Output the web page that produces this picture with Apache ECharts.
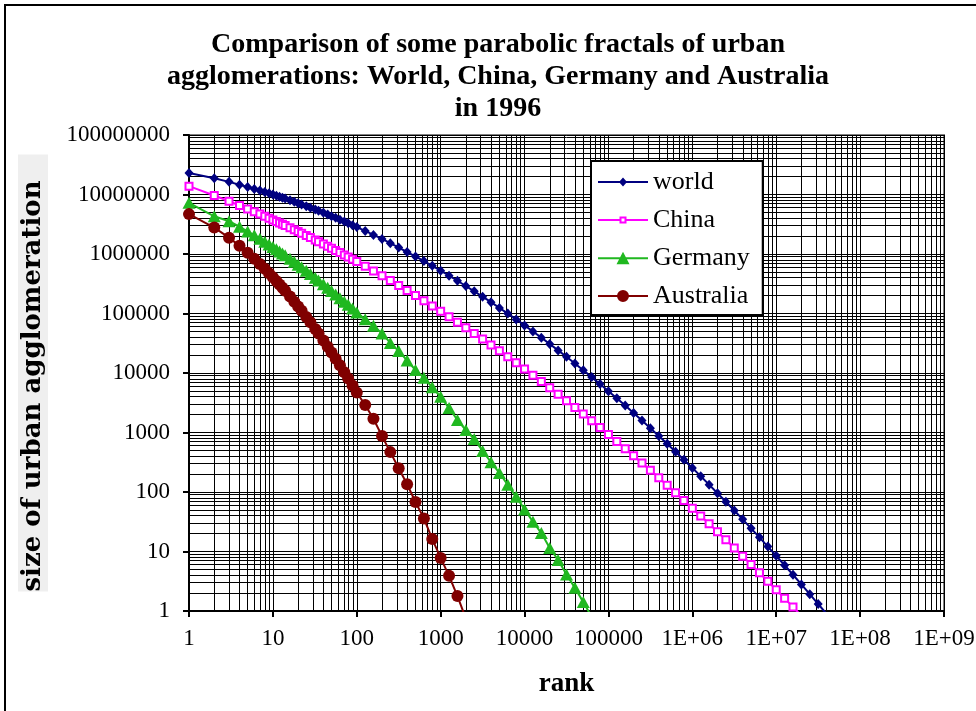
<!DOCTYPE html>
<html>
<head>
<meta charset="utf-8">
<script src="https://cdn.jsdelivr.net/npm/echarts@6/dist/echarts.min.js"></script>
<style>
  html, body { margin: 0; padding: 0; background: #fff; }
  #chart { width: 976px; height: 711px; }
</style>
</head>
<body>
<div id="chart"></div>
<script>
// rank (x) shared by all series
const ranks = [1, 2, 3, 4, 5, 6, 7, 8, 9, 10, 11, 12, 13, 14, 16, 18, 20, 22, 25, 28, 32, 35, 40, 45, 50, 56, 63, 71, 79, 89, 100,
  126, 158, 200, 251, 316, 398, 501, 631, 794, 1000,
  1259, 1585, 1995, 2512, 3162, 3981, 5012, 6310, 7943, 10000,
  12589, 15849, 19953, 25119, 31623, 39811, 50119, 63096, 79433, 100000,
  125893, 158489, 199526, 251189, 316228, 398107, 501187, 630957, 794328, 1000000,
  1258925, 1584893, 1995262, 2511886, 3162278, 3981072, 5011872, 6309573, 7943282, 10000000,
  12589254, 15848932, 19952623, 25118864, 31622777, 39810717];

// size of urban agglomeration, one value per rank
const worldSizes = [22900000, 18700000, 16300000, 14600000, 13400000, 12400000, 11700000, 11000000, 10500000, 9980000,
  9550000, 9180000, 8830000, 8530000, 7980000, 7540000, 7140000, 6810000, 6370000, 5980000,
  5570000, 5310000, 4920000, 4600000, 4330000, 4050000, 3780000, 3510000, 3280000, 3050000, 2830000,
  2440000, 2090000, 1790000, 1520000, 1280000, 1080000, 908000, 760000, 632000, 524000,
  432000, 355000, 290000, 236000, 192000, 155000, 124000, 99800, 79500, 63100,
  49900, 39300, 30800, 24000, 18700, 14400, 11100, 8530, 6520, 4950,
  3750, 2830, 2120, 1590, 1180, 877, 647, 475, 348, 254,
  184, 133, 95.5, 68.5, 48.9, 34.7, 24.5, 17.3, 12.1, 8.45,
  5.87, 4.07, 2.80, 1.92, 1.31, 0.895];

const chinaSizes = [13800000, 9620000, 7690000, 6530000, 5730000, 5130000, 4680000, 4310000, 4000000, 3740000,
  3520000, 3330000, 3160000, 3010000, 2760000, 2550000, 2380000, 2230000, 2040000, 1890000,
  1720000, 1610000, 1470000, 1350000, 1250000, 1150000, 1060000, 966000, 891000, 815000, 745000,
  623000, 520000, 432000, 358000, 296000, 244000, 200000, 164000, 134000, 109000,
  88300, 71400, 57500, 46300, 37100, 29600, 23600, 18700, 14800, 11700,
  9200, 7210, 5640, 4390, 3410, 2640, 2040, 1570, 1210, 923,
  703, 535, 406, 306, 231, 173, 130, 96.8, 72.1, 53.5,
  39.5, 29.2, 21.4, 15.7, 11.5, 8.35, 6.06, 4.39, 3.16, 2.28,
  1.63, 1.17, 0.83];

const germanySizes = [7240000, 4300000, 3560000, 2870000, 2400000, 2060000, 1810000, 1600000, 1440000, 1310000,
  1200000, 1100000, 1020000, 949000, 832000, 738000, 662000, 600000, 522000, 462000,
  398000, 360000, 309000, 270000, 238000, 208000, 180000, 158000, 140000, 121000, 104000,
  80000, 62000, 46000, 32000, 23500, 16200, 11200, 8320, 5750, 3980,
  2570, 1620, 1100, 776, 490, 316, 209, 132, 83, 51,
  31.6, 20.4, 11.5, 7.2, 4.1, 2.45, 1.41, 0.8];

const australiaSizes = [4680000, 2780000, 1880000, 1370000, 1050000, 834000, 679000, 564000, 476000, 407000,
  353000, 308000, 271000, 241000, 193000, 158000, 131000, 111000, 87700, 71100,
  55000, 46100, 35300, 27700, 22200, 17400, 13500, 10300, 8090, 6170, 4680,
  2900, 1700, 870, 468, 251, 135, 68, 36, 16.2, 7.8,
  3.9, 1.78, 0.75];

const seriesNames = ['world', 'China', 'Germany', 'Australia'];
const xTickLabels = ['1', '10', '100', '1000', '10000', '100000', '1E+06', '1E+07', '1E+08', '1E+09'];
const yTickLabels = ['1', '10', '100', '1000', '10000', '100000', '1000000', '10000000', '100000000'];

const serif = 'Liberation Serif, Times New Roman, serif';

// legend keys: line with the marker in the middle (50 x 14 box)
const legendIcons = {
  world: 'path://M0 6L50 6L50 8L0 8Z M25 2.5L29 7L25 11.5L21 7Z',
  China: 'path://M0 6L21.5 6L21.5 8L0 8Z M28.5 6L50 6L50 8L28.5 8Z M21.5 3.5L28.5 3.5L28.5 10.5L21.5 10.5Z M23.5 5.5L23.5 8.5L26.5 8.5L26.5 5.5Z',
  Germany: 'path://M0 6L50 6L50 8L0 8Z M25 0.5L31.5 13L18.5 13Z',
  Australia: 'path://M0 6L50 6L50 8L0 8Z M19 7A6 6 0 1 1 31 7A6 6 0 1 1 19 7Z',
};

function pairs(sizes) {
  return sizes.map((v, i) => [ranks[i], v]);
}

// minor grid lines at 2..9 of every decade
const minorLines = [];
for (let d = 0; d < xTickLabels.length - 1; d++) {
  for (let m = 2; m <= 9; m++) minorLines.push({ xAxis: m * Math.pow(10, d) });
}
for (let d = 0; d < yTickLabels.length - 1; d++) {
  for (let m = 2; m <= 9; m++) minorLines.push({ yAxis: m * Math.pow(10, d) });
}

const myChart = echarts.init(document.getElementById('chart'));

const lineSeries = (name, sizes, color, symbol, size, extra) => Object.assign({
  name: name,
  type: 'line',
  data: pairs(sizes),
  z: 10,
  symbol: symbol,
  symbolSize: size,
  clip: true,
  lineStyle: { color: color, width: 2 },
  itemStyle: { color: color },
  emphasis: { disabled: true },
}, extra || {});

const option = {
  animation: false,
  backgroundColor: '#fff',
  title: {
    text: 'Comparison of some parabolic fractals of urban\nagglomerations: World, China, Germany and Australia\nin 1996',
    left: 498,
    top: 29,
    padding: 0,
    textAlign: 'center',
    textStyle: {
      fontFamily: serif,
      fontWeight: 'bold',
      fontSize: 28,
      lineHeight: 32,
      color: '#000',
    },
  },
  legend: {
    orient: 'vertical',
    left: 591,
    top: 161,
    z: 20,
    data: seriesNames.map(n => ({ name: n, icon: legendIcons[n] })),
    backgroundColor: '#fff',
    borderColor: '#000',
    borderWidth: 2,
    borderRadius: 0,
    padding: [8, 13, 6, 7],
    itemWidth: 50,
    itemHeight: 14,
    itemGap: 12,
    itemStyle: { borderWidth: 0 },
    textStyle: { fontFamily: serif, fontSize: 26, color: '#000' },
  },
  // outer frame: only the left and top edges fall inside the picture
  graphic: [{
    type: 'rect',
    shape: { x: 5, y: 5, width: 1000, height: 1000 },
    style: { fill: 'none', stroke: '#000', lineWidth: 2 },
    silent: true,
  }],
  grid: {
    left: 189,
    right: 32,
    top: 135,
    bottom: 100,
    show: true,
    borderColor: '#808080',
    borderWidth: 2,
    backgroundColor: 'transparent',
    outerBoundsMode: 'none',
  },
  xAxis: {
    type: 'log',
    logBase: 10,
    min: 1,
    max: 1e9,
    name: 'rank',
    nameLocation: 'middle',
    nameGap: 60,
    nameTextStyle: { fontFamily: serif, fontWeight: 'bold', fontSize: 27, color: '#000' },
    axisLine: { show: true, lineStyle: { color: '#000', width: 2 } },
    axisTick: { show: true, length: 6, lineStyle: { color: '#000', width: 2 } },
    axisLabel: {
      margin: 16,
      fontFamily: serif,
      fontSize: 23,
      color: '#000',
      formatter: v => xTickLabels[Math.round(Math.log10(v))],
    },
    splitLine: { show: true, lineStyle: { color: '#000', width: 1 } },
  },
  yAxis: {
    type: 'log',
    logBase: 10,
    min: 1,
    max: 1e8,
    name: 'size of urban agglomeration',
    nameLocation: 'middle',
    nameGap: 141,
    nameTextStyle: {
      fontFamily: 'DejaVu Serif, serif',
      fontWeight: 'bold',
      fontSize: 26,
      color: '#000',
      backgroundColor: '#efefef',
      padding: [2, 26, 2, 0],
    },
    axisLine: { show: true, lineStyle: { color: '#000', width: 2 } },
    axisTick: { show: true, length: 6, lineStyle: { color: '#000', width: 2 } },
    axisLabel: {
      margin: 19,
      fontFamily: serif,
      fontSize: 23,
      color: '#000',
      formatter: v => yTickLabels[Math.round(Math.log10(v))],
    },
    splitLine: { show: true, lineStyle: { color: '#000', width: 1 } },
  },
  series: [
    {
      name: '_minorGrid',
      type: 'line',
      data: [],
      silent: true,
      z: 1,
      markLine: {
        silent: true,
        symbol: ['none', 'none'],
        label: { show: false },
        lineStyle: { color: '#000', width: 1, type: 'solid' },
        emphasis: { disabled: true },
        animation: false,
        data: minorLines,
      },
    },
    lineSeries('world', worldSizes, '#000080', 'diamond', [9, 10]),
    lineSeries('China', chinaSizes, '#FF00FF', 'emptyRect', 7, {
      itemStyle: { color: '#FF00FF', borderColor: '#FF00FF', borderWidth: 2 },
    }),
    lineSeries('Germany', germanySizes, '#20B820', 'triangle', [13, 12]),
    lineSeries('Australia', australiaSizes, '#800000', 'circle', 12),
  ],
};

myChart.setOption(option);
window.addEventListener('resize', function () {
  myChart.resize();
});
</script>
</body>
</html>
